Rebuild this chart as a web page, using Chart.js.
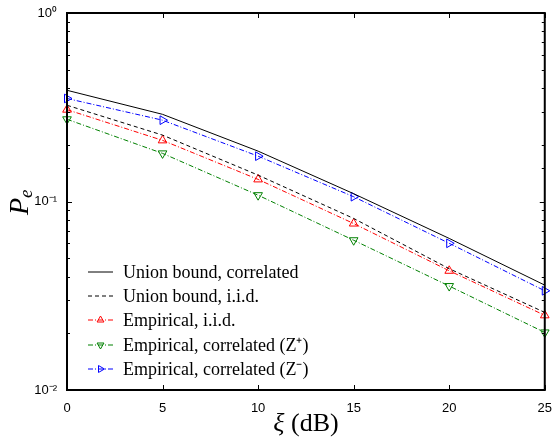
<!DOCTYPE html>
<html>
<head>
<meta charset="utf-8">
<script src="https://cdn.jsdelivr.net/npm/chart.js@4"></script>
<style>
  html, body { margin: 0; padding: 0; background: #fff; }
  #wrap { width: 555px; height: 439px; }
</style>
</head>
<body>
<div id="wrap"><canvas id="pe_chart"></canvas></div>
<script>
const XI_DB = [0, 5, 10, 15, 20, 25];

const UNION_CORR = [0.389, 0.290, 0.185, 0.110, 0.0637, 0.0360];
const UNION_IID = [0.324, 0.225, 0.138, 0.0813, 0.0440, 0.0258];
const EMP_IID = [0.307, 0.211, 0.131, 0.0764, 0.0429, 0.0249];
const EMP_ZPLUS = [0.273, 0.180, 0.108, 0.0623, 0.0356, 0.0202];
const EMP_ZMINUS = [0.352, 0.270, 0.174, 0.106, 0.0600, 0.0336];

const SERIES_LABELS = [
    'Union bound, correlated',
    'Union bound, i.i.d.',
    'Empirical, i.i.d.',
    'Empirical, correlated (Z\u207A)',
    'Empirical, correlated (Z\u207B)'
];

const Y_TICK_TEXT = { 1: '10\u2070', 0.1: '10\u207B\u00B9', 0.01: '10\u207B\u00B2' };

function toPoints(ys) {
    return XI_DB.map((x, i) => ({ x: x, y: ys[i] }));
}

function makeSet(label, ys, color, dash, marker, rotation) {
    return {
        label: label,
        data: toPoints(ys),
        borderColor: color,
        backgroundColor: 'rgba(0,0,0,0)',
        borderWidth: 1,
        borderDash: dash,
        pointStyle: marker || false,
        pointRadius: marker ? 5 : 0,
        pointRotation: rotation || 0,
        pointBorderColor: color,
        pointBackgroundColor: 'rgba(0,0,0,0)',
        pointBorderWidth: 1,
        tension: 0,
        clip: false
    };
}

// box, inward ticks, legend and axis titles
const decorPlugin = {
    id: 'decor',
    afterDraw(chart) {
        const ctx = chart.ctx;
        const a = chart.chartArea;
        const xs = chart.scales.x;
        const ys = chart.scales.y;
        ctx.save();
        ctx.strokeStyle = '#000';
        ctx.lineWidth = 1;
        // x ticks, top and bottom
        XI_DB.forEach(v => {
            const px = Math.round(xs.getPixelForValue(v)) + 0.5;
            ctx.beginPath();
            ctx.moveTo(px, a.bottom); ctx.lineTo(px, a.bottom - 5);
            ctx.moveTo(px, a.top); ctx.lineTo(px, a.top + 5);
            ctx.stroke();
        });
        // y ticks, left and right
        ys.ticks.forEach(t => {
            const py = Math.round(ys.getPixelForValue(t.value)) + 0.5;
            const len = Y_TICK_TEXT[t.value] ? 5 : 3;
            ctx.beginPath();
            ctx.moveTo(a.left, py); ctx.lineTo(a.left + len, py);
            ctx.moveTo(a.right, py); ctx.lineTo(a.right - len, py);
            ctx.stroke();
        });
        // frame
        ctx.lineWidth = 2;
        ctx.strokeRect(a.left, a.top, a.right - a.left, a.bottom - a.top);

        // legend
        const rowY = [272, 296, 320, 345, 369];
        chart.data.datasets.forEach((ds, i) => {
            const y = rowY[i];
            ctx.strokeStyle = ds.borderColor;
            ctx.fillStyle = 'rgba(0,0,0,0)';
            ctx.lineWidth = 1;
            ctx.setLineDash(ds.borderDash || []);
            ctx.beginPath();
            ctx.moveTo(88, y); ctx.lineTo(113, y);
            ctx.stroke();
            ctx.setLineDash([]);
            if (ds.pointStyle) {
                Chart.helpers.drawPoint(ctx, {
                    pointStyle: ds.pointStyle, radius: 4, rotation: ds.pointRotation,
                    borderWidth: 1
                }, 100.5, y);
            }
            ctx.fillStyle = '#000';
            ctx.font = '18px "Liberation Serif", "Times New Roman", serif';
            ctx.textAlign = 'left';
            ctx.textBaseline = 'middle';
            ctx.fillText(ds.label, 123, y + 1);
        });

        // x title
        ctx.fillStyle = '#000';
        ctx.textBaseline = 'middle';
        ctx.textAlign = 'left';
        ctx.font = 'italic 26px "Liberation Serif", serif';
        const xiW = ctx.measureText('\u03BE').width;
        ctx.font = '26px "Liberation Serif", serif';
        const restW = ctx.measureText(' (dB)').width;
        let sx = 306 - (xiW + restW) / 2;
        ctx.font = 'italic 26px "Liberation Serif", serif';
        ctx.fillText('\u03BE', sx, 424);
        ctx.font = '26px "Liberation Serif", serif';
        ctx.fillText(' (dB)', sx + xiW, 424);

        // y title
        ctx.translate(28, 205);
        ctx.rotate(-Math.PI / 2);
        ctx.textBaseline = 'alphabetic';
        ctx.font = 'italic 28px "Liberation Serif", serif';
        ctx.textAlign = 'left';
        ctx.fillText('P', -10, 0);
        const pW = ctx.measureText('P').width;
        ctx.font = 'italic 19px "Liberation Serif", serif';
        ctx.fillText('e', -10 + pW, 4);
        ctx.restore();
    }
};

const ctx = document.getElementById('pe_chart');
new Chart(ctx, {
    type: 'line',
    data: {
        datasets: [
            makeSet(SERIES_LABELS[0], UNION_CORR, '#000000', [], null, 0),
            makeSet(SERIES_LABELS[1], UNION_IID, '#000000', [4, 3], null, 0),
            makeSet(SERIES_LABELS[2], EMP_IID, '#ff0000', [5, 2, 1, 2], 'triangle', 0),
            makeSet(SERIES_LABELS[3], EMP_ZPLUS, '#008000', [5, 2, 1, 2], 'triangle', 180),
            makeSet(SERIES_LABELS[4], EMP_ZMINUS, '#0000ff', [5, 2, 1, 2], 'triangle', 90)
        ]
    },
    options: {
        responsive: true,
        maintainAspectRatio: false,
        animation: false,
        layout: { padding: { left: 0, top: 13, right: 9, bottom: 0 } },
        plugins: {
            legend: { display: false },
            tooltip: { enabled: false }
        },
        scales: {
            x: {
                type: 'linear',
                min: 0,
                max: 25,
                afterFit: s => { s.height = 49; },
                grid: { display: false },
                border: { display: false },
                ticks: {
                    stepSize: 5,
                    padding: 3,
                    color: '#000',
                    font: { family: '"Liberation Sans", Arial, sans-serif', size: 13 }
                }
            },
            y: {
                type: 'logarithmic',
                min: 0.01,
                max: 1,
                afterFit: s => { s.width = 67; },
                grid: { display: false },
                border: { display: false },
                ticks: {
                    autoSkip: false,
                    padding: 2,
                    color: '#000',
                    font: { family: '"Liberation Sans", Arial, sans-serif', size: 13 },
                    callback: v => Y_TICK_TEXT[v] || ''
                }
            }
        }
    },
    plugins: [decorPlugin]
});
</script>
</body>
</html>
